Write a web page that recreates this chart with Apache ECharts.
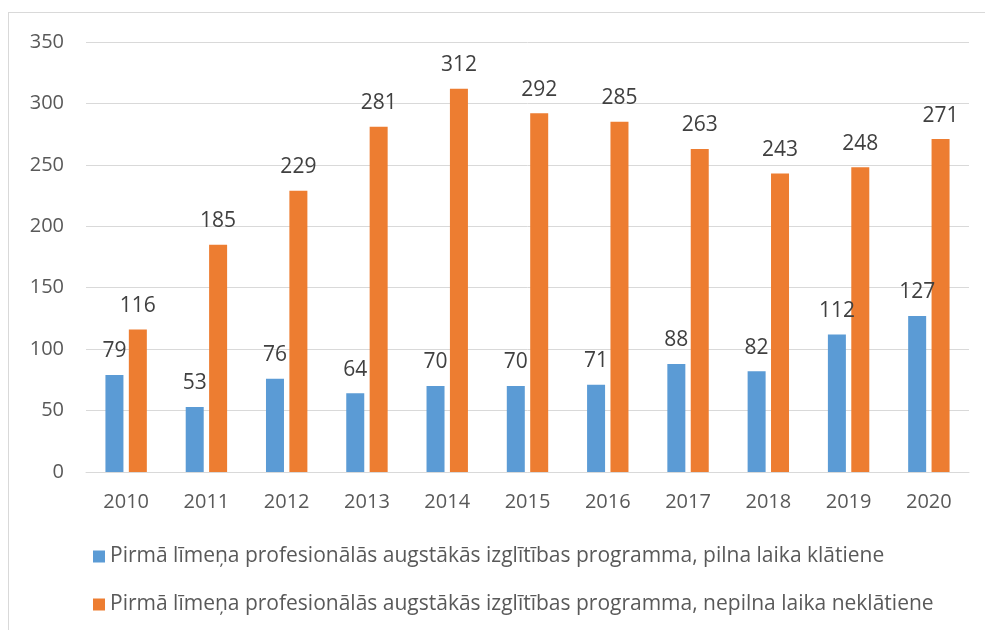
<!DOCTYPE html>
<html><head><meta charset="utf-8">
<script src="https://cdn.jsdelivr.net/npm/echarts@6/dist/echarts.min.js"></script>
<style>html,body{margin:0;padding:0;background:#fff;}#frame{position:absolute;left:8px;top:12px;width:990px;height:640px;border:1.5px solid #d9d9d9;box-sizing:border-box;}#c{width:985px;height:630px;position:absolute;left:0;top:0;}</style>
</head><body><div id="frame"></div><div id="c"></div>
<script>
const years = ['2010','2011','2012','2013','2014','2015','2016','2017','2018','2019','2020'];
const fullTime = [79,53,76,64,70,70,71,88,82,112,127];
const partTime = [116,185,229,281,312,292,285,263,243,248,271];
const seriesNames = ['Pirmā līmeņa profesionālās augstākās izglītības programma, pilna laika klātiene','Pirmā līmeņa profesionālās augstākās izglītības programma, nepilna laika neklātiene'];
const yTicks = [0,50,100,150,200,250,300,350];
const font = 'Open Sans, Noto Sans, sans-serif';
const chart = echarts.init(document.getElementById('c'));
chart.setOption({
  animation:false,
  textStyle:{fontFamily:font},
  grid:{left:86,right:16,top:42,bottom:158,containLabel:false},
  legend:{orient:'vertical',left:88,top:541,itemWidth:12,itemHeight:12,itemGap:27,icon:'rect',
    textStyle:{fontSize:21,color:'#595959',fontFamily:font}},
  xAxis:{type:'category',data:years,axisTick:{show:false},
    axisLine:{lineStyle:{color:'#d9d9d9',width:1}},
    axisLabel:{fontSize:20,color:'#595959',margin:20,fontFamily:font}},
  yAxis:{type:'value',min:0,max:350,interval:50,
    splitLine:{lineStyle:{color:'#d9d9d9'}},
    axisLabel:{fontSize:20,color:'#595959',margin:22,fontFamily:font,formatter:v=>yTicks.includes(v)?String(v):''}},
  series:[
    {name:seriesNames[0],type:'bar',data:fullTime,barWidth:18,barGap:'30%',
     itemStyle:{color:'#5b9bd5'},
     label:{show:true,position:'top',distance:13,fontSize:21,color:'#404040',fontFamily:font}},
    {name:seriesNames[1],type:'bar',data:partTime,barWidth:18,barGap:'30%',
     itemStyle:{color:'#ed7d31'},
     label:{show:true,position:'top',distance:13,fontSize:21,color:'#404040',fontFamily:font}}
  ]
});
</script></body></html>
